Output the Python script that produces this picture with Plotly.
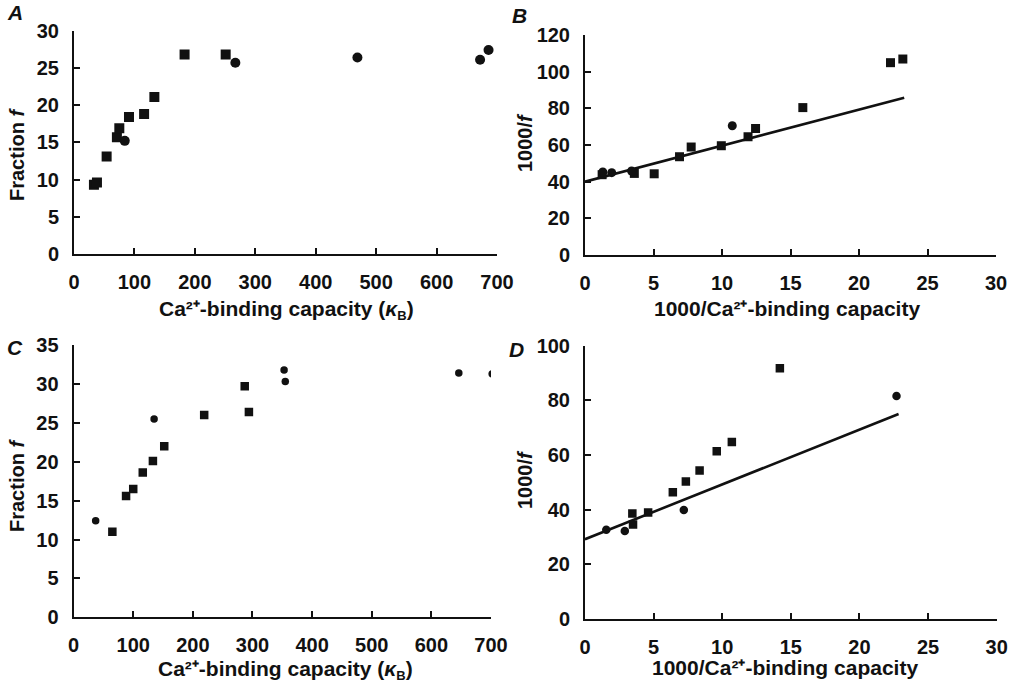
import plotly.graph_objects as go

# Panel A: fraction f versus Ca2+-binding capacity (kappa_B)
a_sq_x = [33, 38, 54, 71, 75, 91, 116, 133, 183, 251]
a_sq_y = [9.3, 9.6, 13.1, 15.7, 16.9, 18.4, 18.8, 21.1, 26.8, 26.8]
a_ci_x = [84, 267, 469, 672, 686]
a_ci_y = [15.2, 25.7, 26.4, 26.1, 27.4]

# Panel B: 1000/f versus 1000/binding capacity, with linear fit
b_sq_x = [1.25, 3.6, 5.05, 6.9, 7.75, 9.95, 11.9, 12.45, 15.9, 22.3, 23.2]
b_sq_y = [43.8, 44.5, 44.3, 53.6, 58.9, 59.6, 64.5, 69.0, 80.4, 104.9, 106.9]
b_ci_x = [1.3, 1.95, 3.4, 10.75]
b_ci_y = [45.3, 44.9, 45.8, 70.5]
b_fit_x = [0, 23.3]
b_fit_y = [40.0, 85.8]

# Panel C: fraction f versus Ca2+-binding capacity (kappa_B)
c_sq_x = [65, 88, 100, 116, 133, 152, 219, 287, 294]
c_sq_y = [11.0, 15.6, 16.5, 18.6, 20.1, 22.0, 26.0, 29.7, 26.4]
c_ci_x = [37, 135, 353, 355, 646, 702]
c_ci_y = [12.4, 25.5, 31.8, 30.3, 31.4, 31.3]

# Panel D: 1000/f versus 1000/binding capacity, with linear fit
d_sq_x = [3.45, 3.5, 4.6, 6.4, 7.35, 8.35, 9.6, 10.7, 14.2]
d_sq_y = [38.5, 34.5, 38.9, 46.3, 50.3, 54.3, 61.3, 64.7, 91.7]
d_ci_x = [1.55, 2.9, 7.2, 22.7]
d_ci_y = [32.6, 32.1, 39.8, 81.6]
d_fit_x = [0, 22.85]
d_fit_y = [29.1, 75.0]

FONT = "Liberation Sans"
BLACK = "#111111"

fig = go.Figure()


def scatter(x, y, symbol, size, xa, ya):
    fig.add_trace(go.Scatter(
        x=x, y=y, mode="markers", xaxis=xa, yaxis=ya,
        marker=dict(symbol=symbol, size=size, color=BLACK,
                    line=dict(width=0)),
        showlegend=False, hoverinfo="x+y"))


def fit(x, y, xa, ya):
    fig.add_trace(go.Scatter(
        x=x, y=y, mode="lines", xaxis=xa, yaxis=ya,
        line=dict(color=BLACK, width=2.6),
        showlegend=False, hoverinfo="skip"))


fit(b_fit_x, b_fit_y, "x2", "y2")
fit(d_fit_x, d_fit_y, "x4", "y4")

scatter(a_sq_x, a_sq_y, "square", 10, "x", "y")
scatter(a_ci_x, a_ci_y, "circle", 10, "x", "y")
scatter(b_sq_x, b_sq_y, "square", 9, "x2", "y2")
scatter(b_ci_x, b_ci_y, "circle", 9, "x2", "y2")
scatter(c_sq_x, c_sq_y, "square", 8.5, "x3", "y3")
scatter(c_ci_x, c_ci_y, "circle", 7.5, "x3", "y3")
scatter(d_sq_x, d_sq_y, "square", 8.5, "x4", "y4")
scatter(d_ci_x, d_ci_y, "circle", 8.5, "x4", "y4")

tickfont = dict(family=FONT, size=20, color=BLACK, weight="bold")


def axis(domain, rng, dtick, anchor):
    return dict(domain=domain, range=rng, dtick=dtick, tick0=0,
                anchor=anchor, showline=True, linecolor=BLACK, linewidth=2,
                ticks="inside", ticklen=6, tickwidth=2, tickcolor=BLACK,
                showgrid=False, zeroline=False, tickfont=tickfont,
                ticklabelstandoff=9, fixedrange=True, automargin=False)


W, H = 1014, 687


def dx(p0, p1):
    return [p0 / W, p1 / W]


def dy(top, bottom):
    return [(H - bottom) / H, (H - top) / H]


fig.update_layout(
    width=W, height=H,
    margin=dict(l=0, r=0, t=0, b=0, pad=0),
    paper_bgcolor="white", plot_bgcolor="white",
    font=dict(family=FONT, color=BLACK),
    xaxis=axis(dx(74, 497), [0, 700], 100, "y"),
    yaxis=axis(dy(30.7, 254), [0, 30], 5, "x"),
    xaxis2=axis(dx(585, 996), [0, 30], 5, "y2"),
    yaxis2=axis(dy(35, 255), [0, 120], 20, "x2"),
    xaxis3=axis(dx(73.6, 491), [0, 700], 100, "y3"),
    yaxis3=axis(dy(345, 617.3), [0, 35], 5, "x3"),
    xaxis4=axis(dx(585, 996.7), [0, 30], 5, "y4"),
    yaxis4=axis(dy(345.7, 618.7), [0, 100], 20, "x4"),
)

title_font = dict(family=FONT, size=21, color=BLACK, weight="bold")
ytitle_font = dict(family=FONT, size=20, color=BLACK, weight="bold")
letter_font = dict(family=FONT, size=21, color=BLACK, weight="bold")

kappa_title = ("Ca²⁺-binding capacity (<i>κ</i>"
               '<sub><span style="font-size:13px">B</span></sub>)')
inv_title = "1000/Ca²⁺-binding capacity"


def text(s, x, y, font, angle=0):
    fig.add_annotation(text=s, x=x / W, y=1 - y / H, xref="paper",
                       yref="paper", showarrow=False, font=font,
                       textangle=angle, xanchor="center", yanchor="middle")


# panel letters
text("<i>A</i>", 15, 13, letter_font)
text("<i>B</i>", 519, 15, letter_font)
text("<i>C</i>", 15, 347, letter_font)
text("<i>D</i>", 516, 349, letter_font)

# axis titles
text(kappa_title, 286, 310, title_font)
text("Fraction <i>f</i>", 17, 155, ytitle_font, -90)
text(inv_title, 787, 308, title_font)
text("1000/<i>f</i>", 525, 143, ytitle_font, -90)
text(kappa_title, 285, 670, title_font)
text("Fraction <i>f</i>", 17, 486, ytitle_font, -90)
text(inv_title, 785, 667, title_font)
text("1000/<i>f</i>", 525, 480, ytitle_font, -90)

fig.write_html("out.html")
